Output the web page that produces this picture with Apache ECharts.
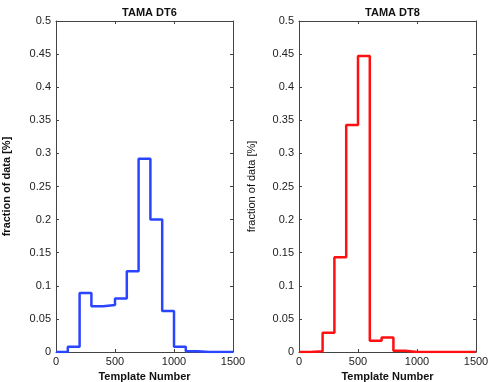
<!DOCTYPE html>
<html><head><meta charset="utf-8">
<script src="https://cdn.jsdelivr.net/npm/echarts@6/dist/echarts.min.js"></script>
<style>html,body{margin:0;padding:0;background:#fff}#c{width:490px;height:382px}</style>
</head><body><div id="c"></div>
<script>
const binEdges = [0,100,200,300,400,500,600,700,800,900,1000,1100,1200,1300,1400,1500];
const dt6Values = [0,0.008,0.089,0.069,0.071,0.081,0.122,0.292,0.200,0.062,0.008,0.001,0,0,0];
const dt8Values = [0,0.001,0.029,0.143,0.343,0.447,0.017,0.022,0.002,0,0,0,0,0,0];
const titles = ['TAMA DT6','TAMA DT8'];
const yName = 'fraction of data [%]';
const xName = 'Template Number';

function stairs(vals){
  return binEdges.map((e,i)=>[e, vals[Math.min(i, vals.length-1)]]);
}
const font = 'Liberation Sans, Arial, Helvetica, sans-serif';
const axisCol = '#444';
const grids = [
  {left:56, top:21, width:177, height:331, outerBoundsMode:'none', containLabel:false},
  {left:299, top:21, width:177, height:331, outerBoundsMode:'none', containLabel:false}
];
const xAxes = [], yAxes = [];
grids.forEach((g,i)=>{
  const common = {type:'value', gridIndex:i, axisLine:{show:true,onZero:false,lineStyle:{color:axisCol,width:1}},
    axisTick:{show:true,inside:true,length:3,lineStyle:{color:axisCol}}, splitLine:{show:false}};
  xAxes.push(Object.assign({}, common, {position:'bottom', min:0, max:1500, interval:500,
    axisLabel:{color:'#222', fontSize:11, fontFamily:font, margin:4, formatter:v=>String(v)},
    name:xName, nameLocation:'middle', nameGap:15,
    nameTextStyle:{fontWeight:'bold', fontSize:11, color:'#111', fontFamily:font}}));
  xAxes.push(Object.assign({}, common, {position:'top', min:0, max:1500, interval:500, axisLabel:{show:false}}));
  yAxes.push(Object.assign({}, common, {position:'left', min:0, max:0.5, interval:0.05,
    axisLabel:{color:'#222', fontSize:11, fontFamily:font, margin:5},
    name:yName, nameLocation:'middle', nameGap:i===0?44:42,
    nameTextStyle:{fontWeight:i===0?'bold':'normal', fontSize:11, color:'#111', fontFamily:font}}));
  yAxes.push(Object.assign({}, common, {position:'right', min:0, max:0.5, interval:0.05, axisLabel:{show:false}}));
});
const chart = echarts.init(document.getElementById('c'), null, {renderer:'canvas'});
chart.setOption({
  animation:false,
  backgroundColor:'#fff',
  title: titles.map((t,i)=>({text:t, left:grids[i].left+grids[i].width/2, top:2, textAlign:'center',
    textStyle:{fontSize:11, fontWeight:'bold', color:'#111', fontFamily:font}})),
  grid: grids,
  xAxis: xAxes,
  yAxis: yAxes,
  series: [
    {type:'line', step:'end', xAxisIndex:0, yAxisIndex:0, data:stairs(dt6Values), symbol:'none',
     lineStyle:{color:'#2a45ff', width:2.5}},
    {type:'line', step:'end', xAxisIndex:2, yAxisIndex:2, data:stairs(dt8Values), symbol:'none',
     lineStyle:{color:'#ff1010', width:2.5}}
  ]
});
</script></body></html>
